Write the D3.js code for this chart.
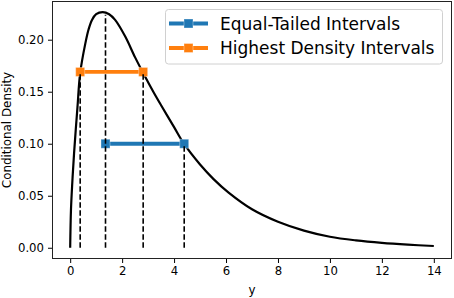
<!DOCTYPE html>
<html lang="en">
<head>
    <meta charset="UTF-8">
    <title>Conditional Density</title>
    <script src="https://d3js.org/d3.v7.min.js"></script>
    <style>
        body { margin: 0; background: #fff; }
        text { font-family: "DejaVu Sans", sans-serif; }
    </style>
</head>
<body>

    <script>

        // density curve
        var curveX = [0, 0.03, 0.08, 0.15, 0.28, 0.385, 0.58, 0.71, 0.84, 1.0, 1.25, 1.5, 1.73, 2.12, 2.5, 2.81,
                      3.2, 3.5, 4.0, 4.38, 5.0, 5.52, 6.1, 7.0, 8.0, 9.0, 10.0, 11.0, 12.0, 13.0, 14.0];
        var curveY = [0, 0.036, 0.062, 0.091, 0.135, 0.168, 0.196, 0.210, 0.219, 0.2245, 0.2265, 0.2245, 0.219, 0.203, 0.183, 0.168,
                      0.150, 0.137, 0.116, 0.100, 0.080, 0.066, 0.053, 0.037, 0.025, 0.0165, 0.0106, 0.0071, 0.0047, 0.0030, 0.0017];

        var etiBounds = [1.36, 4.39];
        var etiLevel = 0.100;
        var hdiBounds = [0.385, 2.81];
        var hdiLevel = 0.169;

        var etiDashX = [1.36, 4.39];
        var etiDashTop = [0.224, 0.100];
        var hdiDashX = [0.385, 2.81];
        var hdiDashTop = [0.168, 0.168];

        var xTicks = [0, 2, 4, 6, 8, 10, 12, 14];
        var yTicks = [0, 0.05, 0.10, 0.15, 0.20];
        var legendLabels = ["Equal-Tailed Intervals", "Highest Density Intervals"];

        var width = 454;
        var height = 298;
        var plotLeft = 52, plotRight = 452, plotTop = 1, plotBottom = 259;

        var xScale = d3.scaleLinear()
            .domain([-0.7, 14.7])
            .range([plotLeft, plotRight]);

        var yScale = d3.scaleLinear()
            .domain([-0.0108, 0.2372])
            .range([plotBottom, plotTop]);

        var svg = d3.select("body")
            .append("svg")
            .attr("width", width)
            .attr("height", height);

        var blue = "#1f77b4", orange = "#ff7f0e";

        // curve
        var pts = curveX.map(function (x, i) { return [x, curveY[i]]; });
        var line = d3.line()
            .x(function (d) { return xScale(d[0]); })
            .y(function (d) { return yScale(d[1]); })
            .curve(d3.curveCatmullRom.alpha(0.5));

        svg.append("path")
            .datum(pts)
            .attr("d", line)
            .attr("fill", "none")
            .attr("stroke", "#000")
            .attr("stroke-width", 2.2);

        function drawInterval(bounds, level, color) {
            svg.append("line")
                .attr("x1", xScale(bounds[0]))
                .attr("x2", xScale(bounds[1]))
                .attr("y1", yScale(level))
                .attr("y2", yScale(level))
                .attr("stroke", color)
                .attr("stroke-width", 3.8);
            svg.selectAll(null)
                .data(bounds)
                .enter()
                .append("rect")
                .attr("x", function (d) { return xScale(d) - 4.5; })
                .attr("y", yScale(level) - 4.5)
                .attr("width", 9)
                .attr("height", 9)
                .attr("fill", color)
                .attr("stroke", "#fff")
                .attr("stroke-opacity", 0.35)
                .attr("stroke-width", 1);
        }

        function drawDashes(xs, tops) {
            svg.selectAll(null)
                .data(xs)
                .enter()
                .append("line")
                .attr("x1", function (d) { return xScale(d); })
                .attr("x2", function (d) { return xScale(d); })
                .attr("y1", yScale(0))
                .attr("y2", function (d, i) { return yScale(tops[i]); })
                .attr("stroke", "#000")
                .attr("stroke-width", 1.6)
                .attr("stroke-dasharray", "5.5,2.5");
        }

        drawInterval(etiBounds, etiLevel, blue);
        drawDashes(etiDashX, etiDashTop);
        drawInterval(hdiBounds, hdiLevel, orange);
        drawDashes(hdiDashX, hdiDashTop);

        // axes
        var xAxis = d3.axisBottom(xScale)
            .tickValues(xTicks)
            .tickSize(4)
            .tickPadding(4)
            .tickFormat(d3.format("d"));

        var yAxis = d3.axisLeft(yScale)
            .tickValues(yTicks)
            .tickSize(4)
            .tickPadding(4)
            .tickFormat(d3.format(".2f"));

        var gx = svg.append("g")
            .attr("transform", "translate(0," + plotBottom + ")")
            .call(xAxis);
        var gy = svg.append("g")
            .attr("transform", "translate(" + plotLeft + ",0)")
            .call(yAxis);

        [gx, gy].forEach(function (g) {
            g.select(".domain").remove();
            g.selectAll("text")
                .attr("font-family", "DejaVu Sans")
                .attr("font-size", 11.7)
                .attr("fill", "#000");
            g.selectAll("line").attr("stroke", "#000");
        });

        // frame
        svg.append("rect")
            .attr("x", plotLeft + 0.5)
            .attr("y", plotTop + 0.5)
            .attr("width", plotRight - plotLeft - 1)
            .attr("height", plotBottom - plotTop - 1)
            .attr("fill", "none")
            .attr("stroke", "#222")
            .attr("stroke-width", 1);

        svg.append("text")
            .attr("x", (plotLeft + plotRight) / 2)
            .attr("y", 294)
            .attr("text-anchor", "middle")
            .attr("font-size", 11.9)
            .text("y");

        svg.append("text")
            .attr("transform", "translate(11," + ((plotTop + plotBottom) / 2) + ") rotate(-90)")
            .attr("text-anchor", "middle")
            .attr("font-size", 11.9)
            .text("Conditional Density");

        // legend
        var legend = svg.append("g");
        legend.append("rect")
            .attr("x", 165.5)
            .attr("y", 9.5)
            .attr("width", 277)
            .attr("height", 54.5)
            .attr("rx", 3)
            .attr("fill", "#fff")
            .attr("fill-opacity", 0.8)
            .attr("stroke", "#d0d0d0");

        var legendColors = [blue, orange];
        var rows = legend.selectAll(".row")
            .data(legendLabels)
            .enter()
            .append("g")
            .attr("transform", function (d, i) { return "translate(0," + (23.5 + i * 24.5) + ")"; });

        rows.append("line")
            .attr("x1", 169)
            .attr("x2", 208)
            .attr("stroke", function (d, i) { return legendColors[i]; })
            .attr("stroke-width", 3.8);
        rows.append("rect")
            .attr("x", 184)
            .attr("y", -4.5)
            .attr("width", 9)
            .attr("height", 9)
            .attr("fill", function (d, i) { return legendColors[i]; })
            .attr("stroke", "#fff")
            .attr("stroke-opacity", 0.35);
        rows.append("text")
            .attr("x", 220)
            .attr("dy", "0.36em")
            .attr("font-size", 17)
            .text(function (d) { return d; });

    </script>

</body>
</html>
